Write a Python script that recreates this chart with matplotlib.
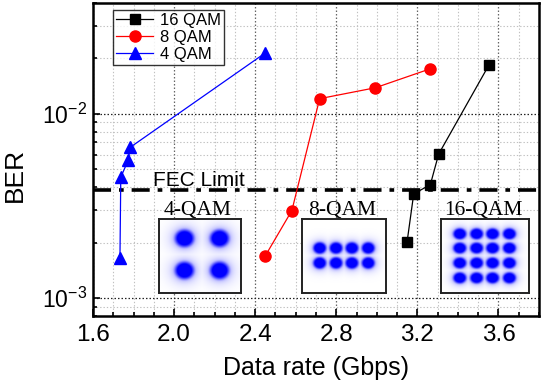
import numpy as np
import matplotlib
matplotlib.use("Agg")
import matplotlib.pyplot as plt
from matplotlib.ticker import MultipleLocator, LogLocator, NullFormatter, FixedLocator
from matplotlib.colors import LinearSegmentedColormap

# ---------------- data ----------------
qam16_rate = [3.149, 3.182, 3.264, 3.305, 3.552]
qam16_ber = [2.01e-3, 3.68e-3, 4.13e-3, 6.05e-3, 1.834e-2]

qam8_rate = [2.449, 2.581, 2.718, 2.993, 3.264]
qam8_ber = [1.69e-3, 2.99e-3, 1.21e-2, 1.387e-2, 1.758e-2]

qam4_rate = [1.733, 1.737, 1.774, 1.783, 2.449]
qam4_ber = [1.66e-3, 4.53e-3, 5.62e-3, 6.58e-3, 2.14e-2]

series_labels = ["16 QAM", "8 QAM", "4 QAM"]
fec_limit = 3.84e-3
x_ticks = [1.6, 2.0, 2.4, 2.8, 3.2, 3.6]
x_tick_labels = ["1.6", "2.0", "2.4", "2.8", "3.2", "3.6"]

# constellation centres (fractions of the inset box, x from left, y from top)
const4_x = [0.31, 0.74, 0.31, 0.74]
const4_y = [0.30, 0.30, 0.73, 0.73]
const8_x = [0.21, 0.405, 0.595, 0.79] * 2
const8_y = [0.40] * 4 + [0.60] * 4
const16_x = [0.21, 0.40, 0.58, 0.77] * 4
const16_y = [0.20] * 4 + [0.40] * 4 + [0.60] * 4 + [0.79] * 4
inset_titles = ["4-QAM", "8-QAM", "16-QAM"]

# ---------------- figure ----------------
plt.rcParams['font.family'] = ['Liberation Sans', 'DejaVu Sans']
plt.rcParams['mathtext.fontset'] = 'custom'
plt.rcParams['mathtext.rm'] = 'Liberation Sans'
plt.rcParams['mathtext.it'] = 'Liberation Sans'

W, H = 542, 384
fig = plt.figure(figsize=(W / 100, H / 100), dpi=100)
ax = fig.add_axes([93 / W, 1 - 316 / H, (539 - 93) / W, (316 - 3) / H])

ax.set_yscale('log')
ax.set_xlim(1.6, 3.8)
ax.set_ylim(8e-4, 4e-2)

# grid
ax.xaxis.set_major_locator(FixedLocator(x_ticks))
ax.xaxis.set_minor_locator(MultipleLocator(0.1))
ax.set_xticklabels(x_tick_labels)
ax.yaxis.set_major_locator(LogLocator(base=10))
ax.yaxis.set_minor_locator(LogLocator(base=10, subs=np.arange(2, 10)))
ax.yaxis.set_minor_formatter(NullFormatter())

ax.grid(which='major', axis='y', linestyle=(0, (1.2, 1.6)), color='#222222', linewidth=0.9)
ax.grid(which='major', axis='x', linestyle=(0, (1.2, 1.6)), color='#666666', linewidth=0.9)
ax.grid(which='minor', axis='both', linestyle=(0, (1.2, 1.8)), color='#c0c0c0', linewidth=0.8)
ax.set_axisbelow(True)

ax.tick_params(which='both', direction='in', top=False, right=False, width=1.2)
ax.tick_params(which='major', length=5)
ax.tick_params(which='minor', length=3)
ax.tick_params(axis='x', which='major', labelsize=17.5, pad=6)
ax.tick_params(axis='y', which='major', labelsize=16.5, pad=4)
for s in ax.spines.values():
    s.set_linewidth(1.8)

# series
ax.plot(qam16_rate, qam16_ber, color='black', lw=0.9, marker='s', ms=7,
        label=series_labels[0], zorder=5)
ax.plot(qam8_rate, qam8_ber, color='red', lw=0.9, marker='o', ms=8,
        label=series_labels[1], zorder=5)
ax.plot(qam4_rate, qam4_ber, color='blue', lw=0.9, marker='^', ms=8.5,
        label=series_labels[2], zorder=5)

# FEC limit
ax.axhline(fec_limit, color='black', lw=2.6, linestyle=(0, (5, 2.2, 1.3, 2.2)), zorder=4)
ax.text(1.898, 4.08e-3, "FEC Limit", fontsize=15, va='baseline', ha='left', zorder=6)

ax.set_xlabel("Data rate (Gbps)", fontsize=18, labelpad=7)
ax.set_ylabel("BER", fontsize=19)
ax.yaxis.set_label_coords(-0.148, 0.45)

leg = ax.legend(loc='upper left', bbox_to_anchor=(0.045, 0.978), borderaxespad=0,
                fontsize=12, handlelength=2.2, handletextpad=0.4, borderpad=0.2,
                labelspacing=0.1, fancybox=False, frameon=True)
leg.get_frame().set_edgecolor('black')
leg.get_frame().set_linewidth(1.0)

# ---------------- constellation insets ----------------
cmap = LinearSegmentedColormap.from_list('cb', ['#ffffff', '#c4c4ff', '#5050ff', '#0000ff'])


def draw_inset(box, cx, cy, core, halo, title, title_x):
    l, r, t, b = box
    iax = fig.add_axes([l / W, 1 - b / H, (r - l) / W, (b - t) / H])
    iax.set_zorder(3)
    n = 200
    gx, gy = np.meshgrid(np.linspace(0, 1, n), np.linspace(0, 1, n))
    core_d = np.zeros_like(gx)
    halo_d = np.zeros_like(gx)
    for x0, y0 in zip(cx, cy):
        r2 = (gx - x0) ** 2 + (gy - y0) ** 2
        core_d = np.maximum(core_d, np.exp(-r2 / (2 * core ** 2)))
        halo_d = np.maximum(halo_d, np.exp(-r2 / (2 * halo ** 2)))
    v = np.clip(1.9 * core_d + 0.38 * halo_d, 0, 1)
    iax.imshow(v, extent=(0, 1, 0, 1), origin='upper', cmap=cmap, vmin=0, vmax=1,
               aspect='auto', interpolation='bilinear')
    iax.set_xlim(0, 1)
    iax.set_ylim(1, 0)
    iax.set_xticks([])
    iax.set_yticks([])
    for s in iax.spines.values():
        s.set_linewidth(1.4)
        s.set_color('#222222')
    ax.text(title_x, 2.81e-3, title, fontsize=15.5, family='Liberation Serif',
            ha='center', va='baseline', zorder=6)


draw_inset((159.3, 240.7, 219.3, 293.3), const4_x, const4_y, 0.062, 0.13, inset_titles[0], 2.114)
draw_inset((302.3, 385.7, 219.3, 293.3), const8_x, const8_y, 0.042, 0.085, inset_titles[1], 2.828)
draw_inset((441.0, 529.3, 219.3, 293.3), const16_x, const16_y, 0.04, 0.08, inset_titles[2], 3.526)

fig.savefig("out.png", dpi=100)
